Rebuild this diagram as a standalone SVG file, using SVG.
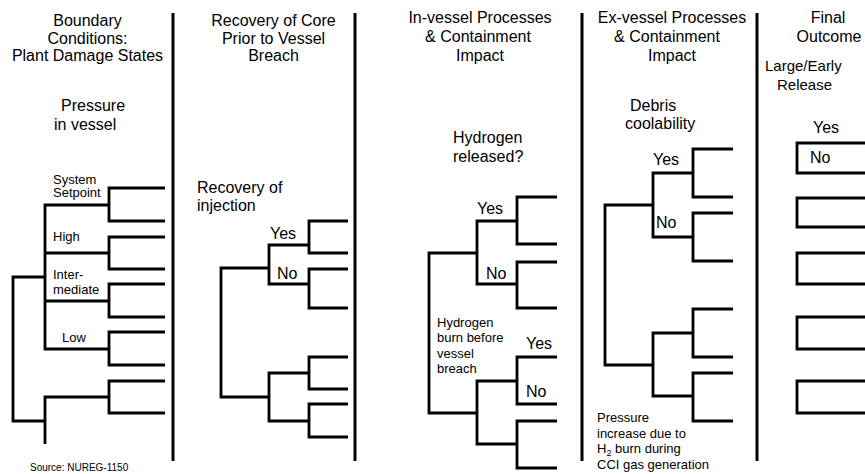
<svg xmlns="http://www.w3.org/2000/svg" width="865" height="474" viewBox="0 0 865 474">
<style>
.t{font-family:"Liberation Sans",Arial,sans-serif;fill:#000}
.h{font-size:16px;text-anchor:middle}
.m{font-size:16px}
.s{font-size:13px}
.br,.ln,.dv{fill:none;stroke:#000;stroke-width:2.8;stroke-linejoin:miter;stroke-linecap:butt}
.dv{stroke-width:3}
</style>
<rect width="865" height="474" fill="#fff"/>

<g id="dividers">
<line class="dv" x1="173" y1="13" x2="173" y2="461"/>
<line class="dv" x1="355" y1="13" x2="355" y2="461"/>
<line class="dv" x1="582" y1="13" x2="582" y2="461"/>
<line class="dv" x1="757" y1="13" x2="757" y2="461"/>
</g>

<g id="titles">
<text class="t h" x="87.5" y="25.5">Boundary</text>
<text class="t h" x="87.5" y="43.5">Conditions:</text>
<text class="t h" x="87.5" y="61">Plant Damage States</text>
<text class="t h" x="273.5" y="25.5">Recovery of Core</text>
<text class="t h" x="273.5" y="43.5">Prior to Vessel</text>
<text class="t h" x="273.5" y="61">Breach</text>
<text class="t h" x="480" y="22.5">In-vessel Processes</text>
<text class="t h" x="478" y="42">&amp; Containment</text>
<text class="t h" x="480" y="60.5">Impact</text>
<text class="t h" x="672" y="22.5">Ex-vessel Processes</text>
<text class="t h" x="667" y="42">&amp; Containment</text>
<text class="t h" x="672" y="60.5">Impact</text>
<text class="t h" x="828" y="22.5">Final</text>
<text class="t h" x="829" y="42">Outcome</text>
</g>

<g id="questions">
<text class="t m" x="61" y="111">Pressure</text>
<text class="t m" x="54" y="129.5">in vessel</text>
<text class="t m" x="197" y="193">Recovery of</text>
<text class="t m" x="197" y="211">injection</text>
<text class="t m" x="453" y="142.5">Hydrogen</text>
<text class="t m" x="453" y="162">released?</text>
<text class="t m" x="630" y="111">Debris</text>
<text class="t m" x="625" y="129">coolability</text>
<text class="t" style="font-size:15px" x="765" y="70.5">Large/Early</text>
<text class="t" style="font-size:15px" x="777" y="89.5">Release</text>
</g>

<g id="connectors">
<path class="ln" d="M45,277 H13 V421 H45"/>
<path class="ln" d="M109,205 H45 V349 H109 M45,253 H109 M45,301 H109"/>
<path class="ln" d="M109,397 H45 V444"/>
<path class="ln" d="M269,268 H221 V397 H269"/>
<path class="ln" d="M309,245 H269 V284 H309"/>
<path class="ln" d="M309,373 H269 V421 H309"/>
<path class="ln" d="M477,253 H429 V413 H477"/>
<path class="ln" d="M517,221 H477 V284 H517"/>
<path class="ln" d="M517,381 H477 V444 H517"/>
<path class="ln" d="M653,205 H605 V365 H653"/>
<path class="ln" d="M693,173 H653 V237 H693"/>
<path class="ln" d="M693,333 H653 V396 H693"/>
</g>

<g id="pds-setpoint"><path class="br" d="M165,188 H109 V221 H165"/>
<text class="t s" x="53" y="183.5">System</text><text class="t s" x="53" y="197">Setpoint</text></g>
<g id="pds-high"><path class="br" d="M165,237 H109 V269 H165"/>
<text class="t s" x="53" y="241">High</text></g>
<g id="pds-intermediate"><path class="br" d="M165,284 H109 V317 H165"/>
<text class="t s" x="53" y="278.5">Inter-</text><text class="t s" x="53" y="294">mediate</text></g>
<g id="pds-low"><path class="br" d="M165,332 H109 V365 H165"/>
<text class="t s" x="62" y="342">Low</text></g>
<g id="pds-other"><path class="br" d="M165,381 H109 V413 H165"/></g>

<g id="rec-yes"><path class="br" d="M348,221 H309 V253 H348"/>
<text class="t m" x="270" y="238.5">Yes</text></g>
<g id="rec-no"><path class="br" d="M348,269 H309 V308 H348"/>
<text class="t m" x="277" y="278.5">No</text></g>
<g id="rec-3"><path class="br" d="M348,357 H309 V389 H348"/></g>
<g id="rec-4"><path class="br" d="M348,404 H309 V437 H348"/></g>

<g id="h2-yes"><path class="br" d="M557,197 H517 V244 H557"/>
<text class="t m" x="477" y="213.5">Yes</text></g>
<g id="h2-no"><path class="br" d="M557,262 H517 V308 H557"/>
<text class="t m" x="486" y="278.5">No</text></g>
<g id="h2burn-label"><text class="t s" x="437" y="326.5">Hydrogen</text><text class="t s" x="437" y="342">burn before</text><text class="t s" x="437" y="357.5">vessel</text><text class="t s" x="437" y="373">breach</text></g>
<g id="h2burn-yesno"><path class="br" d="M557,357 H517 V404 H557"/>
<text class="t m" x="526" y="349">Yes</text><text class="t m" x="526" y="397">No</text></g>
<g id="h2burn-2"><path class="br" d="M557,421 H517 V468 H557"/></g>

<g id="debris-yes"><path class="br" d="M733,149 H693 V197 H733"/>
<text class="t m" x="653" y="165">Yes</text></g>
<g id="debris-no"><path class="br" d="M733,213 H693 V261 H733"/>
<text class="t m" x="656" y="227.5">No</text></g>
<g id="debris-3"><path class="br" d="M733,309 H693 V357 H733"/></g>
<g id="debris-4"><path class="br" d="M733,373 H693 V421 H733"/></g>
<g id="pressure-label"><text class="t s" x="597" y="422">Pressure</text><text class="t s" x="597" y="437.5">increase due to</text><text class="t s" x="597" y="453">H<tspan font-size="9" dy="3">2</tspan><tspan dy="-3"> burn during</tspan></text><text class="t s" x="597" y="468.5">CCI gas generation</text></g>

<g id="out-1"><path class="br" d="M866,143 H797 V173 H866"/>
<text class="t m" x="813" y="133">Yes</text><text class="t m" x="810" y="163">No</text></g>
<g id="out-2"><path class="br" d="M866,198 H797 V227 H866"/></g>
<g id="out-3"><path class="br" d="M866,253 H797 V284 H866"/></g>
<g id="out-4"><path class="br" d="M866,317 H797 V349 H866"/></g>
<g id="out-5"><path class="br" d="M866,381 H797 V413 H866"/></g>

<g id="source"><text class="t" style="font-size:10px" x="30" y="471">Source:  NUREG-1150</text></g>
</svg>
